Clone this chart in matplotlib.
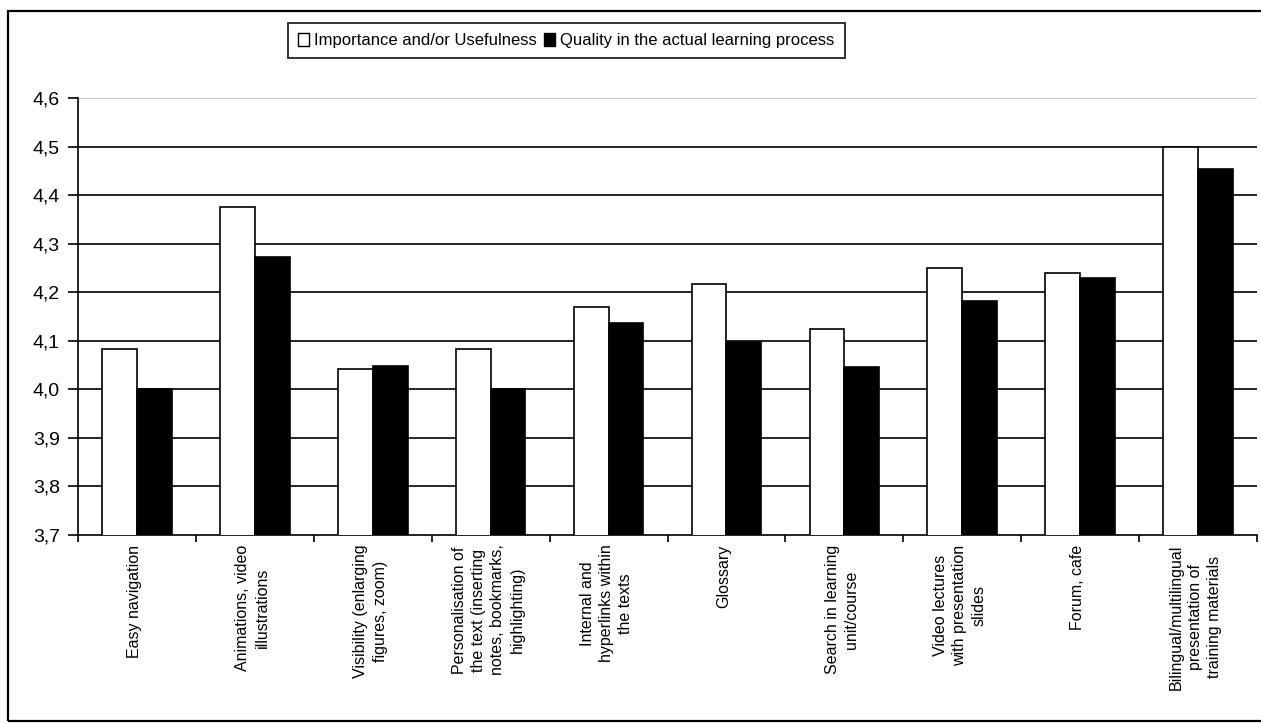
import numpy as np
import matplotlib.pyplot as plt
from matplotlib.patches import Rectangle, Patch
from matplotlib.ticker import FuncFormatter, MultipleLocator

plt.rcParams['font.family'] = ['Liberation Sans', 'DejaVu Sans']

# data
categories = [
    'Easy navigation',
    'Animations, video\nillustrations',
    'Visibility (enlarging\nfigures, zoom)',
    'Personalisation of\nthe text (inserting\nnotes, bookmarks,\nhighlighting)',
    'Internal and\nhyperlinks within\nthe texts',
    'Glossary',
    'Search in learning\nunit/course',
    'Video lectures\nwith presentation\nslides',
    'Forum, cafe',
    'Bilingual/multilingual\npresentation of\ntraining materials',
]
importance = [4.083, 4.376, 4.043, 4.083, 4.169, 4.217, 4.124, 4.250, 4.239, 4.500]
quality = [4.000, 4.272, 4.048, 4.000, 4.137, 4.098, 4.047, 4.182, 4.229, 4.455]
series_names = ['Importance and/or Usefulness', 'Quality in the actual learning process']

fig = plt.figure(figsize=(12.61, 7.23), dpi=100)
ax = fig.add_axes([0.0619, 0.26, 0.9349, 0.604])

x = np.arange(len(categories))
w = 0.295
ax.bar(x - w / 2, importance, w, color='white', edgecolor='black', linewidth=1.2, zorder=3)
ax.bar(x + w / 2, quality, w, color='black', edgecolor='black', linewidth=1.2, zorder=3)

ax.set_ylim(3.7, 4.6)
ax.set_xlim(-0.5, len(categories) - 0.5)
ax.yaxis.set_major_locator(MultipleLocator(0.1))
ax.yaxis.set_major_formatter(FuncFormatter(lambda v, p: f'{v:.1f}'.replace('.', ',')))
ax.tick_params(axis='y', labelsize=14, direction='out', length=7, width=1.2, pad=6)

# category ticks sit on the boundaries, labels in the middle
ax.set_xticks(np.arange(len(categories) + 1) - 0.5)
ax.set_xticklabels([])
ax.tick_params(axis='x', direction='out', length=5, width=1.2)
for i, lab in enumerate(categories):
    ax.text(i - 0.02, 3.68, lab, rotation=90, ha='center', va='top', multialignment='center',
            fontsize=11.5, linespacing=1.35, transform=ax.transData)

for yv in np.arange(3.8, 4.55, 0.1):
    ax.axhline(yv, color='black', linewidth=1.2, zorder=1)
ax.axhline(4.6, color='#c0c0c0', linewidth=1.2, zorder=1)

ax.spines['top'].set_visible(False)
ax.spines['right'].set_visible(False)
ax.spines['left'].set_linewidth(1.2)
ax.spines['bottom'].set_linewidth(1.2)

handles = [Patch(facecolor='white', edgecolor='black', linewidth=1),
           Patch(facecolor='black', edgecolor='black', linewidth=1)]
leg = fig.legend(handles, series_names, loc='center', bbox_to_anchor=(0.449, 0.944), ncol=2,
                 fontsize=12, frameon=True, fancybox=False, edgecolor='black',
                 handlelength=0.7, handleheight=0.8, handletextpad=0.3, columnspacing=0.4,
                 borderpad=0.6, borderaxespad=0)
leg.get_frame().set_linewidth(1.4)

# outer chart border
fig.patches.append(Rectangle((8 / 1261, 2 / 723), 1.0, 1 - 13 / 723, transform=fig.transFigure,
                             fill=False, edgecolor='black', linewidth=1.6))

fig.savefig('out.png', dpi=100)
